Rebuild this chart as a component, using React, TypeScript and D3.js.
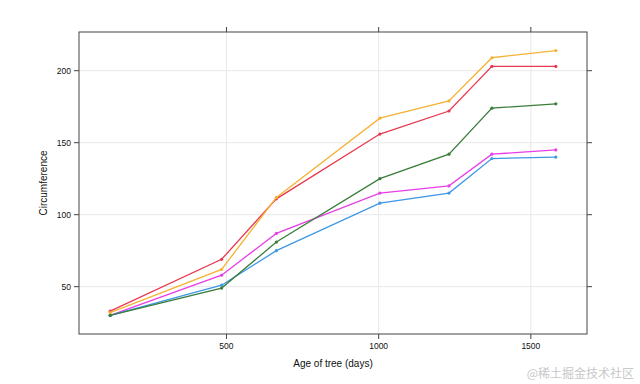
import * as d3 from "d3";

const WIDTH = 640;
const HEIGHT = 384;
const MARGIN = { top: 32, right: 53, bottom: 50, left: 79 };

// Orange tree growth data
const ages = [118, 484, 664, 1004, 1231, 1372, 1582];
const trees = ["1", "2", "3", "4", "5"];
const circTree1 = [30, 58, 87, 115, 120, 142, 145];
const circTree2 = [33, 69, 111, 156, 172, 203, 203];
const circTree3 = [30, 51, 75, 108, 115, 139, 140];
const circTree4 = [32, 62, 112, 167, 179, 209, 214];
const circTree5 = [30, 49, 81, 125, 142, 174, 177];
const xTicks = [500, 1000, 1500];
const yTicks = [50, 100, 150, 200];

const colors = ["#e83ee8", "#e8384f", "#3d98e6", "#f5b335", "#3a7d3a"];
const series = [circTree1, circTree2, circTree3, circTree4, circTree5];

const FONT = "Liberation Sans, Arial, sans-serif";

export default function App() {
  const boundsWidth = WIDTH - MARGIN.left - MARGIN.right;
  const boundsHeight = HEIGHT - MARGIN.top - MARGIN.bottom;

  // lattice style 7% padding on both sides
  const [x0, x1] = d3.extent(ages) as [number, number];
  const xPad = (x1 - x0) * 0.07;
  const xScale = d3.scaleLinear().domain([x0 - xPad, x1 + xPad]).range([0, boundsWidth]);

  const allY = series.flat();
  const y0 = d3.min(allY)!;
  const y1 = d3.max(allY)!;
  const yPad = (y1 - y0) * 0.07;
  const yScale = d3.scaleLinear().domain([y0 - yPad, y1 + yPad]).range([boundsHeight, 0]);

  const line = d3
    .line<number>()
    .x((_, i) => xScale(ages[i]))
    .y((d) => yScale(d));

  const TICK = 5;

  return (
    <svg width={WIDTH} height={HEIGHT} style={{ position: "absolute", left: 0, top: 0 }}>
      <rect width={WIDTH} height={HEIGHT} fill="white" />
      <g transform={`translate(${MARGIN.left},${MARGIN.top})`}>
        {/* grid */}
        {xTicks.map((t) => (
          <line key={"gx" + t} x1={xScale(t)} x2={xScale(t)} y1={0} y2={boundsHeight} stroke="#e8e8e8" />
        ))}
        {yTicks.map((t) => (
          <line key={"gy" + t} x1={0} x2={boundsWidth} y1={yScale(t)} y2={yScale(t)} stroke="#e8e8e8" />
        ))}

        {/* series */}
        {series.map((s, i) => (
          <g key={trees[i]}>
            <path d={line(s) ?? ""} fill="none" stroke={colors[i]} strokeWidth={1.3} />
            {s.map((v, j) => (
              <circle key={j} cx={xScale(ages[j])} cy={yScale(v)} r={1.6} fill={colors[i]} />
            ))}
          </g>
        ))}

        {/* frame */}
        <rect x={0} y={0} width={boundsWidth} height={boundsHeight} fill="none" stroke="#444" strokeWidth={1} />

        {/* x ticks bottom + top */}
        {xTicks.map((t) => (
          <g key={"tx" + t}>
            <line x1={xScale(t)} x2={xScale(t)} y1={boundsHeight} y2={boundsHeight + TICK} stroke="#444" />
            <line x1={xScale(t)} x2={xScale(t)} y1={0} y2={-TICK} stroke="#444" />
            <text
              x={xScale(t)}
              y={boundsHeight + 15}
              textAnchor="middle"
              fontSize={8.5}
              fontFamily={FONT}
              fill="#111"
            >
              {t}
            </text>
          </g>
        ))}

        {/* y ticks left + right */}
        {yTicks.map((t) => (
          <g key={"ty" + t}>
            <line x1={0} x2={-TICK} y1={yScale(t)} y2={yScale(t)} stroke="#444" />
            <line x1={boundsWidth} x2={boundsWidth + TICK} y1={yScale(t)} y2={yScale(t)} stroke="#444" />
            <text
              x={-8}
              y={yScale(t)}
              dy="0.35em"
              textAnchor="end"
              fontSize={8.5}
              fontFamily={FONT}
              fill="#111"
            >
              {t}
            </text>
          </g>
        ))}

        {/* axis titles */}
        <text
          x={boundsWidth / 2}
          y={boundsHeight + 33}
          textAnchor="middle"
          fontSize={10}
          fontFamily={FONT}
          fill="#111"
        >
          Age of tree (days)
        </text>
        <text
          transform={`translate(${-32},${boundsHeight / 2}) rotate(-90)`}
          textAnchor="middle"
          fontSize={10}
          fontFamily={FONT}
          fill="#111"
        >
          Circumference
        </text>
      </g>
      <text
        x={634}
        y={378}
        textAnchor="end"
        fontSize={12}
        fontFamily="Noto Sans CJK SC, sans-serif"
        fill="#c8c8c8"
      >
        @稀土掘金技术社区
      </text>
    </svg>
  );
}
